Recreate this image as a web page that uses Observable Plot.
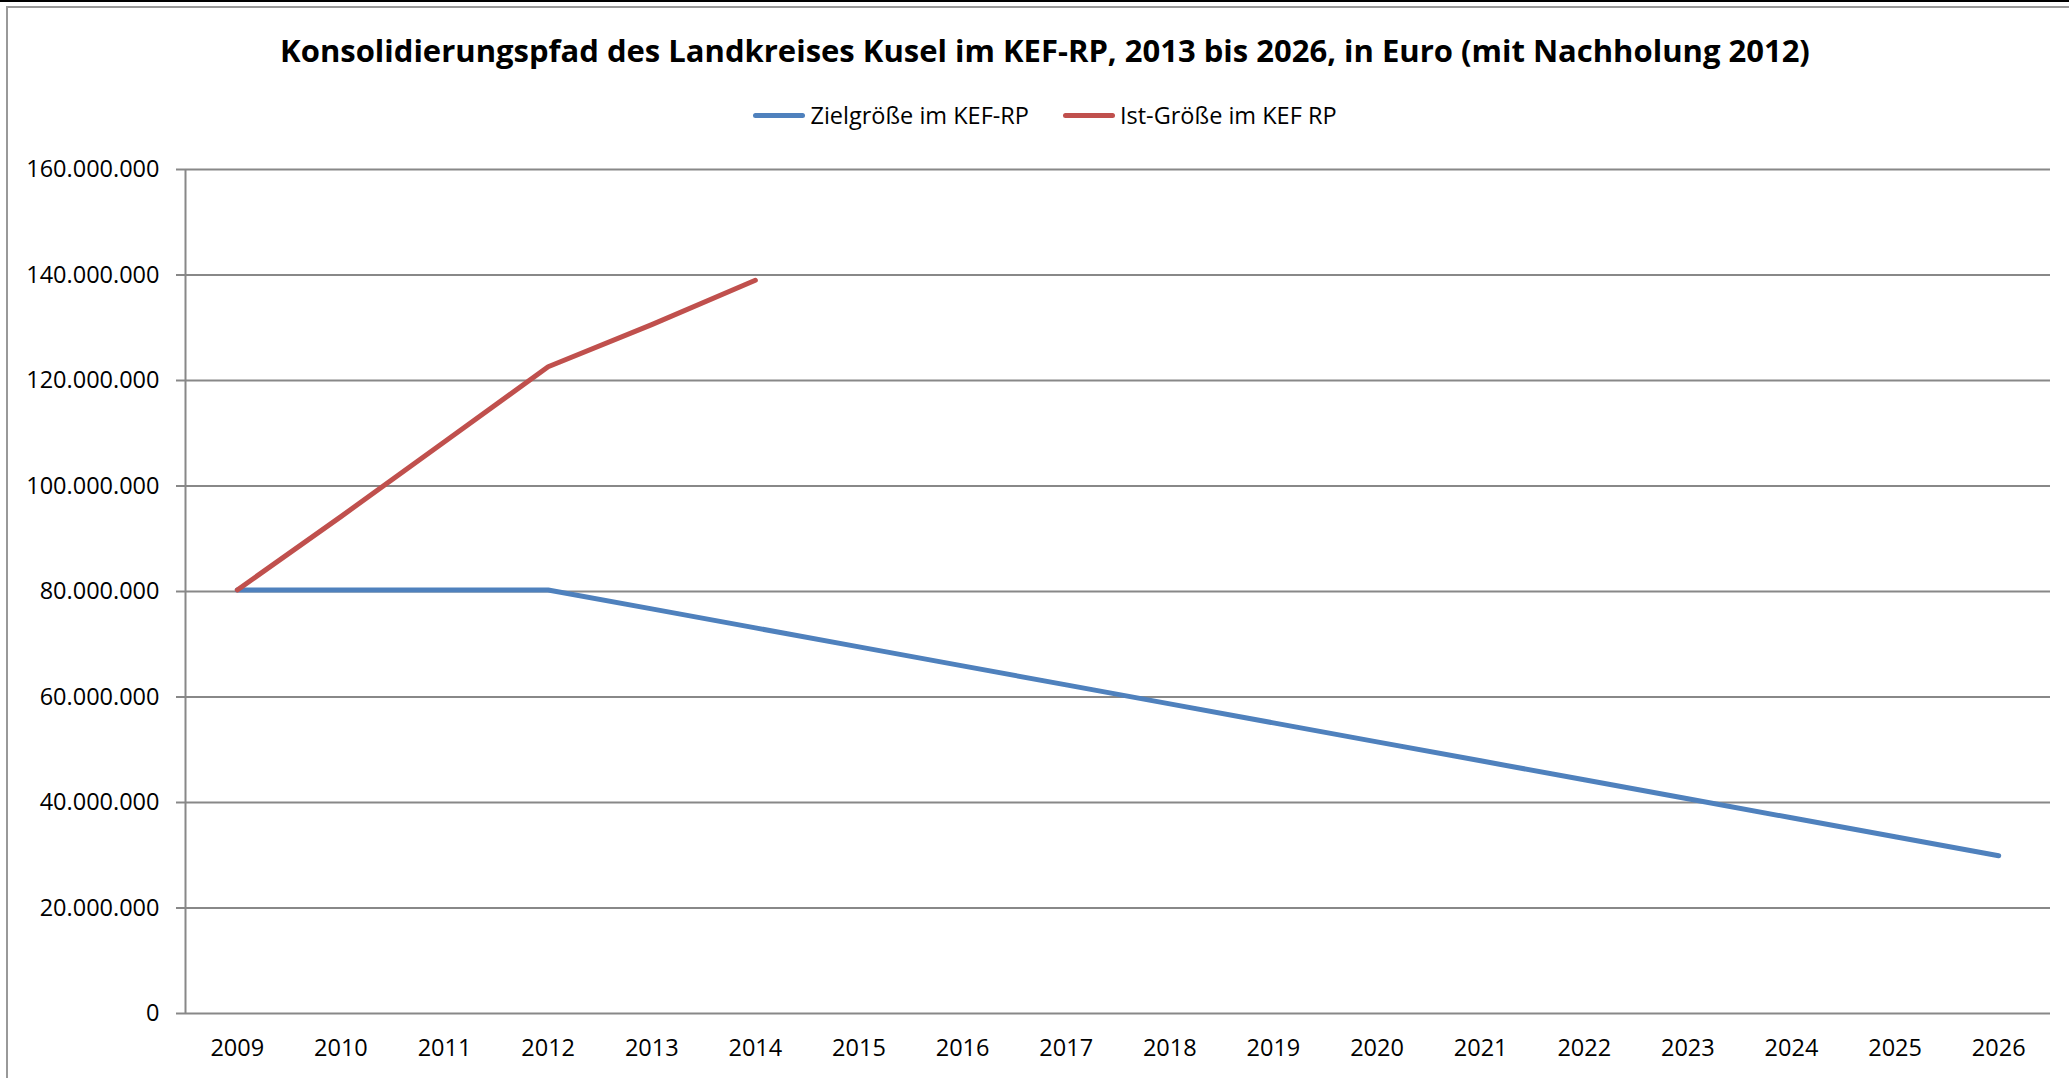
<!DOCTYPE html>
<html>
<head>
<meta charset="utf-8">
<script src="https://cdn.jsdelivr.net/npm/d3@7"></script>
<script src="https://cdn.jsdelivr.net/npm/@observablehq/plot@0.6"></script>
<style>
  html, body { margin: 0; padding: 0; background: #fff; }
  body { width: 2069px; height: 1078px; position: relative; overflow: hidden; font-family: "Open Sans", sans-serif; color: #000; }
  #topline { position: absolute; left: 0; top: 0; width: 2069px; height: 2px; background: #000; }
  #frame { position: absolute; left: 6px; top: 6px; width: 2069px; height: 1078px; border-left: 2px solid #999; border-top: 2px solid #999; }
  #title { position: absolute; left: 0; width: 2090px; top: 26px; text-align: center; font-weight: 700; font-size: 31px; line-height: 48px; white-space: nowrap; }
  #legend { position: absolute; left: 0; width: 2090px; top: 98px; display: flex; justify-content: center; align-items: center; font-size: 23.5px; line-height: 34px; }
  .item { display: flex; align-items: center; margin: 0 17px; }
  .sw { width: 52px; height: 5px; border-radius: 3px; margin-right: 5px; }
  #chart { position: absolute; left: 0; top: 140px; }
</style>
</head>
<body>
<div id="topline"></div>
<div id="frame"></div>
<div id="title">Konsolidierungspfad des Landkreises Kusel im KEF-RP, 2013 bis 2026, in Euro (mit Nachholung 2012)</div>
<div id="legend"></div>
<div id="chart"></div>
<script>
const years = [2009, 2010, 2011, 2012, 2013, 2014, 2015, 2016, 2017, 2018, 2019, 2020, 2021, 2022, 2023, 2024, 2025, 2026];
const zielValues = [80.3e6, 80.3e6, 80.3e6, 80.3e6, 76.7e6, 73.1e6, 69.5e6, 65.9e6, 62.3e6, 58.7e6, 55.1e6, 51.5e6, 47.9e6, 44.3e6, 40.7e6, 37.1e6, 33.5e6, 29.9e6];
const istYears = [2009, 2010, 2011, 2012, 2013, 2014];
const istValues = [80.3e6, 94.2e6, 108.4e6, 122.6e6, 130.6e6, 139.0e6];
const yTicks = [0, 20e6, 40e6, 60e6, 80e6, 100e6, 120e6, 140e6, 160e6];
const seriesNames = ["Zielgröße im KEF-RP", "Ist-Größe im KEF RP"];
const seriesColors = ["#4F81BD", "#C0504D"];

const ziel = years.map((y, i) => ({year: y, value: zielValues[i]}));
const ist = istYears.map((y, i) => ({year: y, value: istValues[i]}));

const de = d3.formatLocale({decimal: ",", thousands: ".", grouping: [3], currency: ["", " €"]});
const fmt = de.format(",");

const legend = document.getElementById("legend");
seriesNames.forEach((n, i) => {
  const it = document.createElement("div");
  it.className = "item";
  const sw = document.createElement("div");
  sw.className = "sw";
  sw.style.background = seriesColors[i];
  const t = document.createElement("span");
  t.textContent = n;
  it.appendChild(sw); it.appendChild(t);
  legend.appendChild(it);
});

const grid = "#888888";
const plot = Plot.plot({
  width: 2069,
  height: 938,
  marginTop: 29,
  marginBottom: 65,
  marginLeft: 185,
  marginRight: 19,
  style: {fontFamily: "'Open Sans', sans-serif", fontSize: "23.5px", color: "#000", background: "transparent"},
  x: {domain: [2008.5, 2026.5], axis: null},
  y: {domain: [0, 160e6], axis: null},
  marks: [
    Plot.ruleY(yTicks, {stroke: grid, strokeWidth: 2}),
    Plot.ruleX([2008.5], {y1: 0, y2: 160e6, stroke: grid, strokeWidth: 2}),
    Plot.axisY({ticks: yTicks, tickFormat: fmt, label: null, tickSize: 9, tickPadding: 17, stroke: grid, strokeWidth: 2, fill: "#000", fontSize: 23.5}),
    Plot.axisX({ticks: years, tickFormat: d => String(d), label: null, tickSize: 0, tickPadding: 26, fill: "#000", fontSize: 23.5}),
    Plot.line(ziel, {x: "year", y: "value", stroke: seriesColors[0], strokeWidth: 5, strokeLinecap: "round", strokeLinejoin: "round"}),
    Plot.line(ist, {x: "year", y: "value", stroke: seriesColors[1], strokeWidth: 5, strokeLinecap: "round", strokeLinejoin: "round"})
  ]
});
document.getElementById("chart").appendChild(plot);
</script>
</body>
</html>
